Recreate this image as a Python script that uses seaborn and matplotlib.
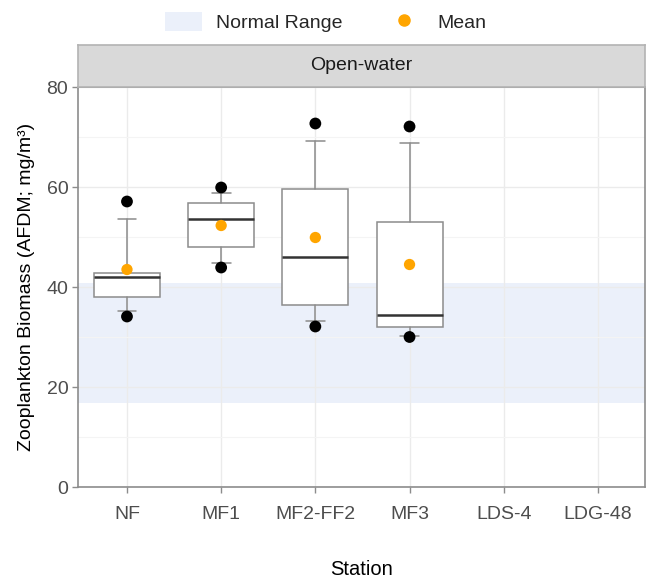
import matplotlib
matplotlib.use('Agg')
import matplotlib.pyplot as plt
import seaborn as sns
import pandas as pd
from matplotlib.patches import Patch
from matplotlib.lines import Line2D

# values
stations = ['NF', 'MF1', 'MF2-FF2', 'MF3', 'LDS-4', 'LDG-48']
box_stations = ['NF', 'MF1', 'MF2-FF2', 'MF3']
q1 = [38.1, 48.1, 36.5, 32.1]
medians = [42.1, 53.7, 46.1, 34.5]
q3 = [42.8, 56.9, 59.7, 53.1]
whis_lo = [35.3, 44.9, 33.3, 30.2]
whis_hi = [53.7, 58.9, 69.3, 68.9]
pt_lo = [34.1, 43.9, 32.1, 30.0]
pt_hi = [57.1, 59.9, 72.7, 72.1]
means = [43.5, 52.3, 49.9, 44.5]
normal_range = [16.8, 40.9]
facet = 'Open-water'

sns.set_theme(style='whitegrid')
plt.rcParams['font.family'] = ['Liberation Sans', 'DejaVu Sans']

W, H = 647, 581
fig = plt.figure(figsize=(W / 100, H / 100), dpi=100)
ax = fig.add_axes([78 / W, 1 - 487 / H, 567 / W, 400 / H])

pos = [stations.index(s) for s in box_stations]

ax.axhspan(normal_range[0], normal_range[1], color='#EBF0FA', zorder=0.5, lw=0)

stats = []
for i in range(len(box_stations)):
    stats.append(dict(med=medians[i], q1=q1[i], q3=q3[i],
                      whislo=whis_lo[i], whishi=whis_hi[i], fliers=[]))
ax.bxp(stats, positions=pos, widths=0.7, capwidths=0.2, showfliers=False,
       patch_artist=True, manage_ticks=False,
       boxprops=dict(facecolor='white', edgecolor='#8C8C8C', lw=1.1),
       whiskerprops=dict(color='#8C8C8C', lw=1.1),
       capprops=dict(color='#8C8C8C', lw=1.1),
       medianprops=dict(color='#333333', lw=1.8))

pts = pd.DataFrame({'x': pos + pos, 'y': pt_lo + pt_hi})
sns.scatterplot(data=pts, x='x', y='y', color='black', s=72, edgecolor='none',
                ax=ax, zorder=4)
mdf = pd.DataFrame({'x': pos, 'y': means})
sns.scatterplot(data=mdf, x='x', y='y', color='#FFA500', s=66, edgecolor='none',
                ax=ax, zorder=5)

ax.set_xlim(-0.52, 5.5)
ax.set_ylim(0, 80)
ax.set_xticks(range(len(stations)))
ax.set_xticklabels(stations)
ax.set_yticks([0, 20, 40, 60, 80])
ax.set_yticks([10, 30, 50, 70], minor=True)
ax.grid(True, which='major', color='#EBEBEB', lw=1.0)
ax.grid(True, which='minor', axis='y', color='#F4F4F4', lw=0.8)
ax.set_axisbelow(True)
ax.set_facecolor('white')
for side, sp in ax.spines.items():
    sp.set_color('#8C8C8C')
    sp.set_linewidth(1.2)
ax.tick_params(axis='both', which='major', length=4, width=1, color='#8C8C8C',
               labelsize=14, labelcolor='#4D4D4D', bottom=True, left=True)
ax.tick_params(axis='x', pad=10)
ax.tick_params(axis='y', pad=3)
ax.tick_params(which='minor', length=0)
ax.set_xlabel('Station', fontsize=14.5, color='black', labelpad=26)
ax.set_ylabel('Zooplankton Biomass (AFDM; mg/m³)', fontsize=14, color='black',
              labelpad=8)

# facet strip
strip = fig.add_axes([78 / W, 1 - 87 / H, 567 / W, 42 / H])
strip.set_facecolor('#D9D9D9')
strip.set_xticks([])
strip.set_yticks([])
for sp in strip.spines.values():
    sp.set_color('#B3B3B3')
    sp.set_linewidth(1.2)
strip.text(0.5, 0.5, facet, ha='center', va='center', fontsize=14,
           color='#1A1A1A', transform=strip.transAxes)

handles = [Patch(facecolor='#EBF0FA', edgecolor='none'),
           Line2D([], [], marker='o', ls='none', color='#FFA500', markersize=8)]
fig.legend(handles, ['Normal Range', 'Mean'], loc='center', ncol=2,
           bbox_to_anchor=(0.503, 1 - 22 / H), frameon=False, fontsize=14,
           handlelength=1.9, handleheight=1.1, handletextpad=0.75,
           columnspacing=2.2)

fig.savefig('out.png', dpi=100)
